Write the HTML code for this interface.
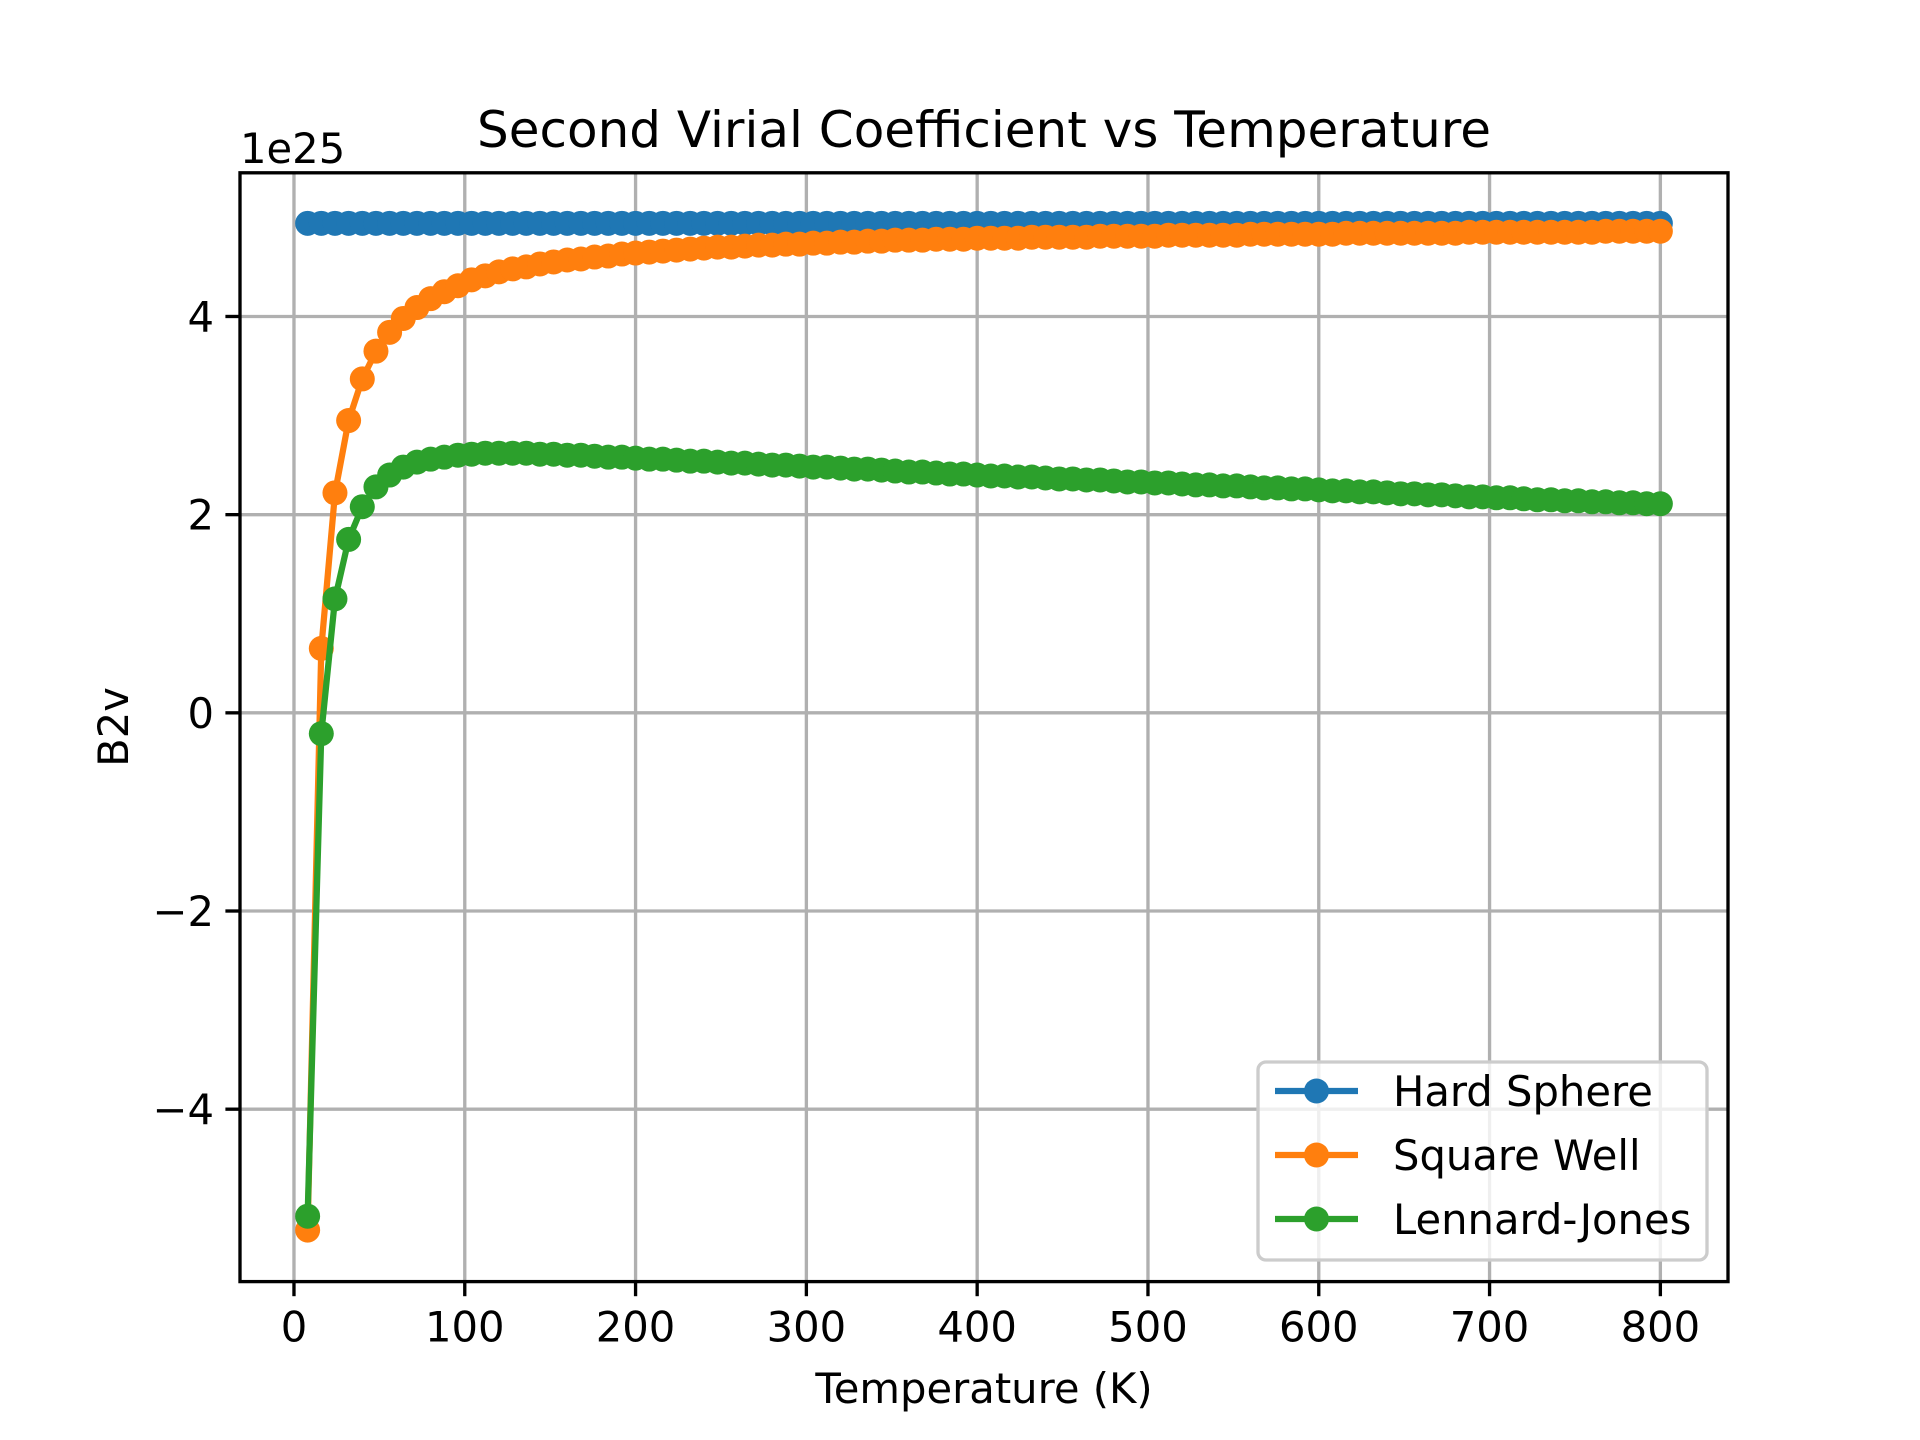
<!DOCTYPE html>
<html><head><meta charset="utf-8"><style>
html,body{margin:0;padding:0;background:#fff;}
svg{display:block;font-family:"DejaVu Sans","Liberation Sans",sans-serif;}
</style></head>
<body>
<svg id="chart" width="1920" height="1440" viewBox="0 0 1920 1440" xmlns="http://www.w3.org/2000/svg">
<rect width="1920" height="1440" fill="#fff"/>
<g id="grid"></g>
<g id="series"></g>
<rect x="240" y="172.8" width="1488" height="1108.8" fill="none" stroke="#000" stroke-width="3.33"/>
<g id="ticks"></g>
<text x="984" y="147" font-size="50" text-anchor="middle">Second Virial Coefficient vs Temperature</text>
<text x="240" y="163" font-size="41.7">1e25</text>
<text x="984" y="1403" font-size="41.7" text-anchor="middle">Temperature (K)</text>
<text transform="translate(128,727) rotate(-90)" font-size="41.7" text-anchor="middle">B2v</text>
<g id="legend"></g>
</svg>
<script>
const temps = [];
for (let t = 8; t <= 800; t += 8) temps.push(t);
const hardSphere = Array(100).fill(4.94);
const squareWell = [-5.22,0.65,2.22,2.95,3.37,3.65,3.84,3.98,4.09,4.18,4.25,4.31,
4.37,4.41,4.45,4.48,4.50,4.53,4.55,4.57,4.58,4.60,4.61,4.63,4.64,4.65,4.66,4.67,4.68,4.69,4.70,4.70,4.71,4.72,4.72,4.73,4.73,4.74,4.74,4.75,4.75,4.76,4.76,4.77,4.77,4.77,4.78,4.78,4.78,4.79,
4.79,4.79,4.79,4.80,4.80,4.80,4.80,4.80,4.81,4.81,4.81,4.81,4.81,4.82,4.82,4.82,4.82,4.82,4.82,
4.83,4.83,4.83,4.83,4.83,4.83,4.83,4.84,4.84,4.84,4.84,4.84,4.84,4.84,4.84,4.84,
4.85,4.85,4.85,4.85,4.85,4.85,4.85,4.85,4.85,4.85,4.86,4.86,4.86,4.86,4.86];
const lennardJones = [-5.08,-0.21,1.15,1.75,2.08,2.28,2.40,2.48,2.53,2.56,2.58,2.60,2.61,2.62,2.62,2.62,2.62,2.61,2.61,2.60,
2.60,2.59,2.58,2.58,2.57,2.56,2.56,2.55,2.54,2.54,2.53,2.52,2.52,2.51,2.50,2.50,2.49,2.48,2.48,2.47,2.46,2.46,2.45,2.44,2.43,2.43,2.42,2.41,2.41,2.40,
2.39,2.39,2.38,2.38,2.37,2.36,2.36,2.35,2.35,2.34,2.33,2.33,2.32,2.32,2.31,2.30,2.30,2.29,2.29,2.28,
2.27,2.27,2.26,2.26,2.25,2.24,2.24,2.23,2.23,2.22,2.21,2.21,2.20,2.20,2.19,2.18,2.18,2.17,2.17,2.16,
2.15,2.15,2.14,2.14,2.13,2.13,2.12,2.12,2.11,2.11];
const xTicks = [0,100,200,300,400,500,600,700,800];
const yTicks = [-4,-2,0,2,4];
const seriesNames = ["Hard Sphere","Square Well","Lennard-Jones"];
const seriesColors = ["#1f77b4","#ff7f0e","#2ca02c"];

const X0=240,X1=1728,Y0=172.8,Y1=1281.6;
const xMin=-31.6,xMax=839.6,yMin=-5.74,yMax=5.45;
const xs=v=>X0+(v-xMin)/(xMax-xMin)*(X1-X0);
const ys=v=>Y1-(v-yMin)/(yMax-yMin)*(Y1-Y0);
const NS="http://www.w3.org/2000/svg";
function mk(tag,attrs,parent){const e=document.createElementNS(NS,tag);for(const k in attrs)e.setAttribute(k,attrs[k]);parent.appendChild(e);return e;}
const grid=document.getElementById('grid'),ticks=document.getElementById('ticks');
xTicks.forEach(v=>{
  const x=xs(v);
  const g=mk('line',{x1:x,x2:x,y1:Y0,y2:Y1,stroke:'#b0b0b0','stroke-width':3.33},grid);
  
  
  const t=mk('line',{x1:x,x2:x,y1:Y1,y2:Y1+14.6,stroke:'#000','stroke-width':3.33},ticks);
  
  
  const l=mk('text',{x:x,y:Y1+60,'font-size':41.7,'text-anchor':'middle'},ticks);
  l.textContent=String(v);
  
  
});
yTicks.forEach(v=>{
  const y=ys(v);
  const g=mk('line',{x1:X0,x2:X1,y1:y,y2:y,stroke:'#b0b0b0','stroke-width':3.33},grid);
  
  
  const t=mk('line',{x1:X0-14.6,x2:X0,y1:y,y2:y,stroke:'#000','stroke-width':3.33},ticks);
  
  
  const l=mk('text',{x:X0-26,y:y+15,'font-size':41.7,'text-anchor':'end'},ticks);
  l.textContent=v<0?'\u2212'+Math.abs(v):String(v);
  
  
});
const sg=document.getElementById('series');
[hardSphere,squareWell,lennardJones].forEach((vals,i)=>{
  const g=mk('g',{},sg);
  
  
  const pts=vals.map((v,j)=>xs(temps[j]).toFixed(1)+','+ys(v).toFixed(1)).join(' ');
  const pl=mk('polyline',{points:pts,fill:'none',stroke:seriesColors[i],'stroke-width':6.25,'stroke-linejoin':'round'},g);
  
  
  vals.forEach((v,j)=>{
    const c=mk('circle',{cx:xs(temps[j]),cy:ys(v),r:12.5,fill:seriesColors[i]},g);
    
    
  });
});
const lg=document.getElementById('legend');
const box=mk('rect',{x:1258,y:1062,width:449,height:198,rx:8,fill:'#fff','fill-opacity':0.8,stroke:'#cccccc','stroke-width':3.33},lg);


seriesNames.forEach((n,i)=>{
  const y=1091+i*64;
  const e=mk('g',{},lg);
  
  
  mk('line',{x1:1275,x2:1358,y1:y,y2:y,stroke:seriesColors[i],'stroke-width':6.25},e);
  mk('circle',{cx:1316.5,cy:y,r:12.5,fill:seriesColors[i]},e);
  const t=mk('text',{x:1393,y:y+15,'font-size':41.7},e);
  t.textContent=n;
});
</script>
</body></html>
